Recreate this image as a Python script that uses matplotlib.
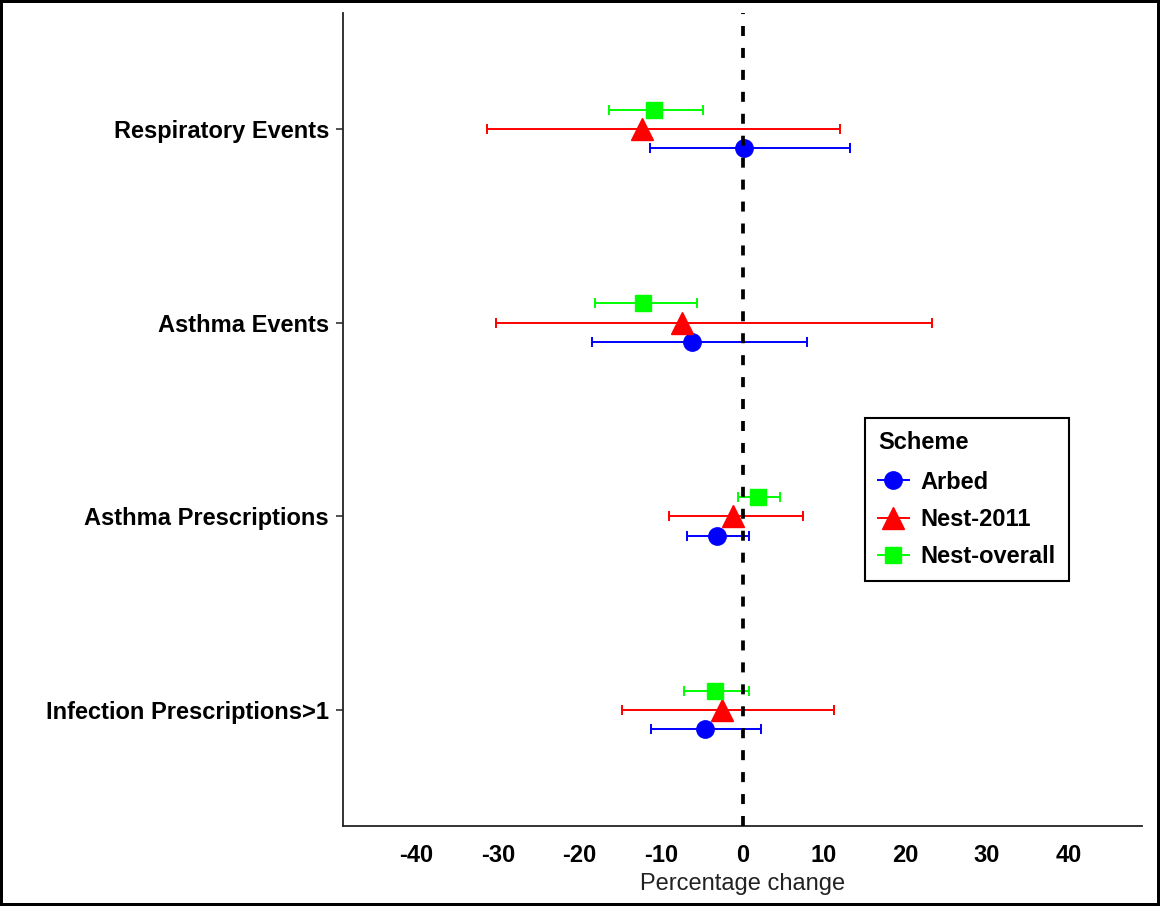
import matplotlib
matplotlib.use("Agg")
import matplotlib.pyplot as plt
from matplotlib.lines import Line2D

plt.rcParams['font.family'] = ['Liberation Sans', 'DejaVu Sans']
plt.rcParams['lines.scale_dashes'] = False

# outcomes, top to bottom
outcomes = ['Respiratory Events', 'Asthma Events', 'Asthma Prescriptions',
            'Infection Prescriptions>1']
schemes = ['Arbed', 'Nest-2011', 'Nest-overall']

# percentage change with lower / upper limits
arbed_est = [0.2, -6.2, -3.1, -4.6]
arbed_lo = [-11.3, -18.5, -6.8, -11.2]
arbed_hi = [13.2, 7.9, 0.8, 2.3]

nest2011_est = [-12.3, -7.4, -1.2, -2.5]
nest2011_lo = [-31.3, -30.2, -9.0, -14.8]
nest2011_hi = [12.0, 23.2, 7.4, 11.2]

nestall_est = [-10.8, -12.2, 1.9, -3.4]
nestall_lo = [-16.4, -18.1, -0.5, -7.2]
nestall_hi = [-4.9, -5.6, 4.6, 0.8]

xticks = [-40, -30, -20, -10, 0, 10, 20, 30, 40]


def draw(ax, est, lo, hi, ypos, color, marker, msize):
    xerr = [[e - l for e, l in zip(est, lo)], [h - e for e, h in zip(est, hi)]]
    ax.errorbar(est, ypos, xerr=xerr, fmt='none', ecolor=color,
                elinewidth=1.4, capsize=3.3, capthick=1.4, zorder=2)
    ax.plot(est, ypos, linestyle='none', marker=marker, color=color,
            markersize=msize, zorder=3)


def main():
    fig = plt.figure(figsize=(11.6, 9.06), dpi=100)
    fig.patch.set_facecolor('white')
    fig.patch.set_edgecolor('black')
    fig.patch.set_linewidth(4)
    ax = fig.add_axes([343 / 1160, 80 / 906, 799 / 1160, 813 / 906])

    n = len(outcomes)
    ypos = [n - i for i in range(n)]
    d = 0.1

    draw(ax, arbed_est, arbed_lo, arbed_hi, [y - d for y in ypos], '#0000FF', 'o', 12.5)
    draw(ax, nest2011_est, nest2011_lo, nest2011_hi, ypos, '#FF0000', '^', 15.5)
    draw(ax, nestall_est, nestall_lo, nestall_hi, [y + d for y in ypos], '#00FF00', 's', 12)

    ax.axvline(0, color='black', linewidth=2.7, dashes=(7.2, 8.6), zorder=4)

    ax.set_xlim(-49, 49)
    ax.set_ylim(0.4, n + 0.6)
    ax.set_xticks(xticks)
    ax.set_xticklabels([str(t) for t in xticks], fontsize=17, fontweight='bold')
    ax.set_yticks(ypos)
    ax.set_yticklabels(outcomes, fontsize=17, fontweight='bold')
    ax.tick_params(axis='x', length=0, pad=13)
    ax.tick_params(axis='y', length=5, width=1.2, color='#333333', pad=5)
    ax.set_xlabel('Percentage change', fontsize=17, color='#222222', labelpad=4)

    for s in ['top', 'right']:
        ax.spines[s].set_visible(False)
    for s in ['left', 'bottom']:
        ax.spines[s].set_linewidth(1.3)
        ax.spines[s].set_color('#222222')

    handles = [
        Line2D([], [], color='#0000FF', marker='o', markersize=12.5, linewidth=1.4),
        Line2D([], [], color='#FF0000', marker='^', markersize=15.5, linewidth=1.4),
        Line2D([], [], color='#00FF00', marker='s', markersize=12, linewidth=1.4),
    ]
    leg = ax.legend(handles, schemes, title='Scheme', loc='upper left',
                    bbox_to_anchor=(865 / 1160, 1 - 418 / 906),
                    bbox_transform=fig.transFigure, borderaxespad=0,
                    prop={'size': 17, 'weight': 'bold'},
                    title_fontproperties={'size': 17, 'weight': 'bold'},
                    handlelength=1.3, handletextpad=0.5, labelspacing=0.6,
                    borderpad=0.55, fancybox=False, framealpha=1)
    leg._legend_box.align = 'left'
    leg._legend_box.sep = 12
    leg.get_frame().set_edgecolor('black')
    leg.get_frame().set_linewidth(1.5)

    fig.savefig('out.png', dpi=100, facecolor='white', edgecolor='black')


if __name__ == '__main__':
    main()
